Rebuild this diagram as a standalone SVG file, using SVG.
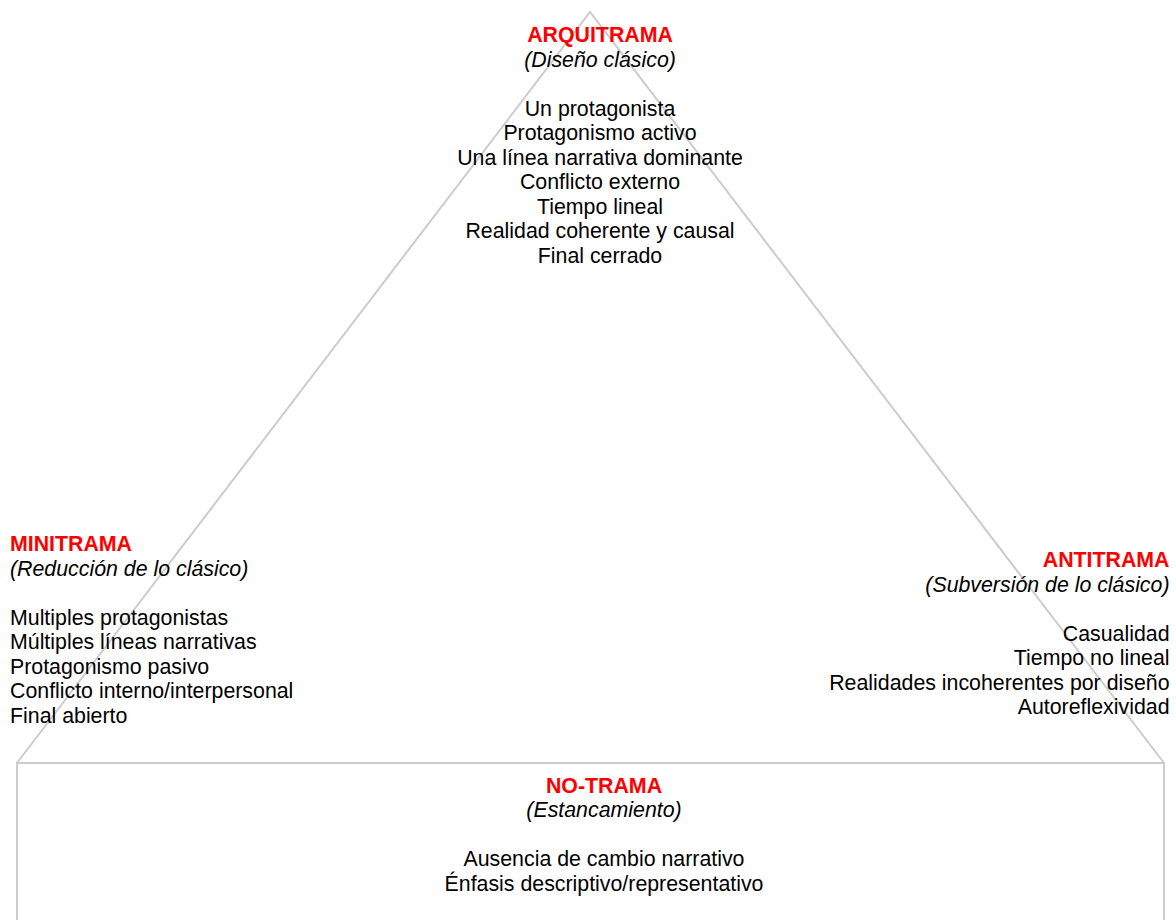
<svg xmlns="http://www.w3.org/2000/svg" width="1176" height="920" viewBox="0 0 1176 920">
<style>
.ln{fill:none;stroke:#cccccc;stroke-width:2}
text{font-family:"Liberation Sans",Arial,sans-serif;font-size:21.33px;fill:#000}
.t{font-weight:bold;fill:#ff0000}
.s{font-style:italic}
.c{text-anchor:middle}
.r{text-anchor:end}
</style>
<rect width="1176" height="920" fill="#ffffff"/>
<g id="connectors">
<path class="ln" d="M17,763 L590,12 L1164,763"/>
<path class="ln" d="M17,921 L17,763 L1164,763 L1164,921"/>
</g>
<g id="arquitrama">
<text class="t c" x="600" y="42">ARQUITRAMA</text>
<text class="s c" x="600" y="66.5">(Diseño clásico)</text>
<text class="c" x="600" y="115.5">Un protagonista</text>
<text class="c" x="600" y="140">Protagonismo activo</text>
<text class="c" x="600" y="164.5">Una línea narrativa dominante</text>
<text class="c" x="600" y="189">Conflicto externo</text>
<text class="c" x="600" y="213.5">Tiempo lineal</text>
<text class="c" x="600" y="238">Realidad coherente y causal</text>
<text class="c" x="600" y="262.5">Final cerrado</text>
</g>
<g id="minitrama">
<text class="t" x="10" y="551">MINITRAMA</text>
<text class="s" x="10" y="575.5">(Reducción de lo clásico)</text>
<text x="10" y="624.5">Multiples protagonistas</text>
<text x="10" y="649">Múltiples líneas narrativas</text>
<text x="10" y="673.5">Protagonismo pasivo</text>
<text x="10" y="698">Conflicto interno/interpersonal</text>
<text x="10" y="722.5">Final abierto</text>
</g>
<g id="antitrama">
<text class="t r" x="1169.5" y="567">ANTITRAMA</text>
<text class="s r" x="1169.5" y="591.5">(Subversión de lo clásico)</text>
<text class="r" x="1169.5" y="640.5">Casualidad</text>
<text class="r" x="1169.5" y="665">Tiempo no lineal</text>
<text class="r" x="1169.5" y="689.5">Realidades incoherentes por diseño</text>
<text class="r" x="1169.5" y="714">Autoreflexividad</text>
</g>
<g id="notrama">
<text class="t c" x="604" y="792.5">NO-TRAMA</text>
<text class="s c" x="604" y="817">(Estancamiento)</text>
<text class="c" x="604" y="866">Ausencia de cambio narrativo</text>
<text class="c" x="604" y="890.5">Énfasis descriptivo/representativo</text>
</g>
</svg>
